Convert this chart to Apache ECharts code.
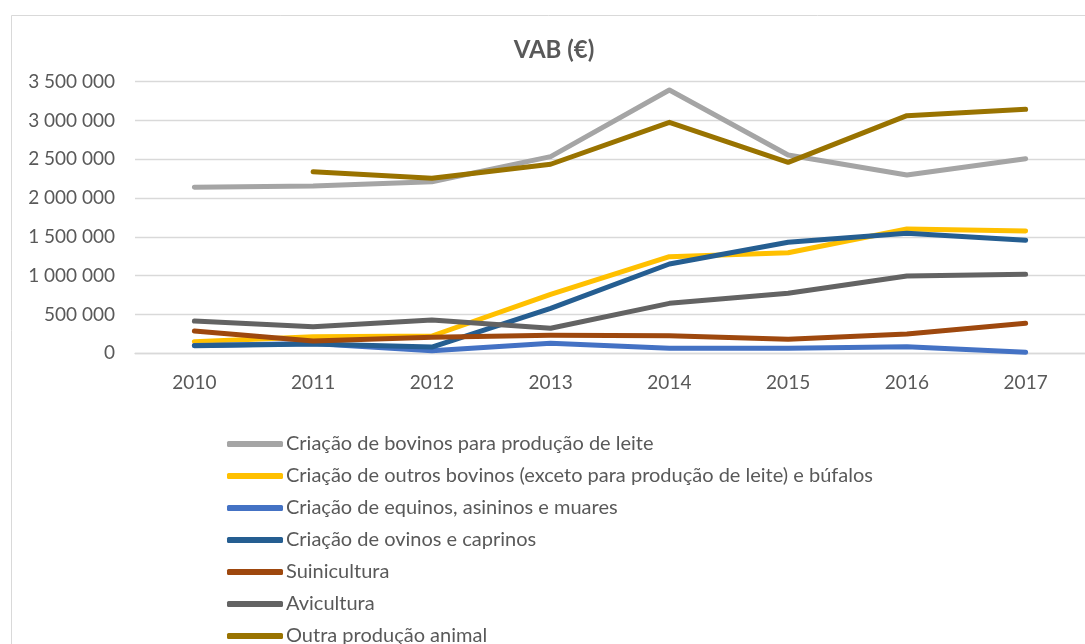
<!DOCTYPE html>
<html>
<head>
<meta charset="utf-8">
<script src="https://cdn.jsdelivr.net/npm/echarts@6/dist/echarts.min.js"></script>
<style>
html,body{margin:0;padding:0;background:#fff;}
#chart{width:1085px;height:644px;}
</style>
</head>
<body>
<div id="chart"></div>
<script>
const years = ['2010','2011','2012','2013','2014','2015','2016','2017'];
const seriesNames = [
  'Criação de bovinos para produção de leite',
  'Criação de outros bovinos (exceto para produção de leite) e búfalos',
  'Criação de equinos, asininos e muares',
  'Criação de ovinos e caprinos',
  'Suinicultura',
  'Avicultura',
  'Outra produção animal'
];
const bovinosLeite = [2139000, 2156000, 2211000, 2534000, 3393000, 2556000, 2298000, 2508000];
const outrosBovinos = [150000, 214000, 223000, 760000, 1245000, 1296000, 1602000, 1576000];
const equinos = [100000, 125000, 33000, 129000, 64000, 64000, 85000, 13000];
const ovinos = [98000, 120000, 80000, 580000, 1151000, 1430000, 1546000, 1456000];
const suinicultura = [287000, 158000, 206000, 232000, 227000, 180000, 249000, 386000];
const avicultura = [416000, 343000, 429000, 322000, 644000, 773000, 996000, 1018000];
const outraProducao = [null, 2340000, 2255000, 2436000, 2977000, 2461000, 3062000, 3144000];
const yTicks = [0, 500000, 1000000, 1500000, 2000000, 2500000, 3000000, 3500000];

const colors = ['#A5A5A5', '#FFC000', '#4472C4', '#255E91', '#9E480E', '#636363', '#997300'];
const dataList = [bovinosLeite, outrosBovinos, equinos, ovinos, suinicultura, avicultura, outraProducao];
const FONT = 'Lato, "Open Sans", sans-serif';

function fmt(v){ return String(v).replace(/\B(?=(\d{3})+(?!\d))/g, ' '); }

const chart = echarts.init(document.getElementById('chart'));
chart.setOption({
  animation: false,
  backgroundColor: '#fff',
  color: colors,
  graphic: [
    {
      type: 'rect', left: 9, top: 13, z: -1, silent: true,
      shape: { width: 1200, height: 800 },
      style: { fill: 'none', stroke: '#d9d9d9', lineWidth: 1 }
    },
    {
      type: 'text', x: 554, y: 50, silent: true,
      style: { text: 'VAB (€)', fontFamily: FONT, fontWeight: 'bold', fontSize: 24,
        fill: '#595959', align: 'center', verticalAlign: 'middle' }
    }
  ],
  legend: {
    orient: 'vertical', left: 222, top: 428, height: 300,
    itemWidth: 56, itemHeight: 6, itemGap: 10, icon: 'roundRect',
    textStyle: { fontFamily: FONT, fontSize: 20, color: '#595959', padding: [0,0,0,-2], lineHeight: 22 },
    data: seriesNames
  },
  grid: { left: 135, width: 961, top: 81.7, height: 271.6, containLabel: false },
  xAxis: {
    type: 'category', data: years, boundaryGap: true,
    axisLine: { show: true, lineStyle: { color: '#d9d9d9', width: 1.3 } },
    axisTick: { show: false },
    axisLabel: { fontFamily: FONT, fontSize: 19, color: '#595959', margin: 20 }
  },
  yAxis: {
    type: 'value', min: 0, max: 3500000, interval: 500000,
    axisLine: { show: false }, axisTick: { show: false },
    splitLine: { lineStyle: { color: '#d9d9d9', width: 1.3 } },
    axisLabel: { fontFamily: FONT, fontSize: 19, color: '#595959', margin: 20,
      formatter: v => yTicks.includes(v) ? fmt(v) : '' }
  },
  series: dataList.map((d, i) => ({
    name: seriesNames[i], type: 'line', data: d, symbol: 'none',
    lineStyle: { width: 5, color: colors[i], cap: 'round', join: 'round' },
    itemStyle: { color: colors[i] }
  }))
});
</script>
</body>
</html>
